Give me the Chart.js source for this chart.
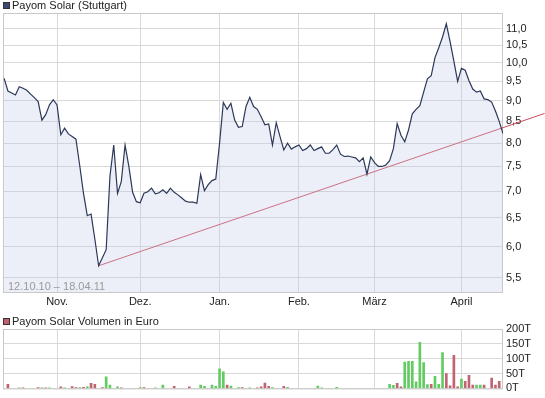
<!DOCTYPE html>
<html>
<head>
<meta charset="utf-8">
<script src="https://cdn.jsdelivr.net/npm/chart.js@4/dist/chart.umd.min.js"></script>
<style>
body { margin: 0; background: #fff; }
#pricebox { position: absolute; left: 0; top: 0; width: 545px; height: 310px; }
#volbox { position: absolute; left: 0; top: 305px; width: 545px; height: 93px; }
</style>
</head>
<body>
<div id="pricebox"><canvas id="priceChart"></canvas></div>
<div id="volbox"><canvas id="volChart"></canvas></div>
<script>
// trading days 12.10.10 .. 18.04.11, one closing price per day
var prices = [
  9.58, 9.25, 9.20, 9.15, 9.36, 9.32, 9.27, 9.17, 9.08, 8.98,
  8.53, 8.66, 8.90, 9.03, 8.90, 8.19, 8.34, 8.21, 8.15, 8.09,
  7.52, 6.96, 6.54, 6.57, 6.13, 5.69, 5.82, 5.95, 7.30, 7.96,
  6.96, 7.19, 7.96, 7.50, 6.98, 6.80, 6.78, 6.96, 6.99, 7.06,
  6.95, 6.97, 7.03, 6.96, 7.06, 6.98, 6.93, 6.87, 6.81, 6.79,
  6.79, 6.77, 7.33, 7.01, 7.13, 7.21, 7.24, 8.00, 8.96, 8.79,
  8.94, 8.53, 8.36, 8.38, 8.86, 9.09, 8.86, 8.79, 8.61, 8.42,
  8.44, 7.96, 8.47, 8.15, 7.85, 8.00, 7.87, 7.92, 7.96, 7.84,
  7.88, 7.96, 7.84, 7.88, 7.92, 7.78, 7.78, 7.86, 7.96, 7.76,
  7.71, 7.72, 7.70, 7.68, 7.60, 7.68, 7.34, 7.70, 7.58, 7.50,
  7.50, 7.53, 7.62, 7.88, 8.45, 8.18, 8.03, 8.30, 8.68, 8.79,
  8.88, 9.22, 9.57, 9.65, 10.15, 10.43, 10.75, 11.15, 10.61, 10.05,
  9.50, 9.85, 9.80, 9.52, 9.30, 9.22, 9.25, 9.05, 9.03, 8.97,
  8.75, 8.50, 8.22
];

// trend line (support) through the November low
var trendDays = [25, 143];
var trendVals = [5.69, 8.69];

var monthDays = [14, 36, 57, 78, 98, 121];
var monthNames = ['Nov.', 'Dez.', 'Jan.', 'Feb.', 'März', 'April'];
var priceTicks = [5.5, 6.0, 6.5, 7.0, 7.5, 8.0, 8.5, 9.0, 9.5, 10.0, 10.5, 11.0];

// volume in thousand euro, '+' = up day (green), '-' = down day (red)
var volDays = [1, 4, 5, 9, 10, 11, 12, 15, 16, 18, 19, 20, 21, 22, 23, 24, 26, 27, 28, 30,
  31, 36, 37, 40, 42, 45, 49, 52, 53, 55, 56, 57, 58, 59, 60, 62, 63, 65, 67, 68,
  69, 70, 71, 74, 75, 83, 84, 88, 102, 103, 104, 105, 106, 107, 108, 109, 110, 111, 112, 113,
  114, 115, 116, 117, 118, 119, 120, 121, 122, 123, 124, 125, 126, 127, 129, 130, 131];
var volAmounts = [14, 2, 2, 3, 2, 2, 2, 5, 2, 6, 3, 3, 4, 5, 17, 14, 3, 39, 11, 5,
  2, 3, 3, 2, 11, 7, 5, 11, 7, 11, 7, 66, 56, 11, 8, 3, 3, 2, 2, 5,
  18, 7, 3, 7, 4, 8, 2, 4, 14, 10, 17, 5, 89, 91, 91, 22, 155, 87, 13, 14,
  41, 14, 121, 50, 9, 111, 5, 31, 24, 44, 11, 11, 11, 11, 35, 11, 24];
var volSide = ['-', '+', '-', '-', '+', '-', '+', '-', '+', '-', '-', '+', '-', '+', '-', '-', '-', '+', '+', '+',
  '-', '+', '-', '+', '+', '-', '-', '+', '+', '+', '+', '+', '+', '-', '+', '+', '-', '+', '-', '-',
  '-', '-', '+', '-', '+', '+', '+', '+', '+', '+', '-', '-', '+', '+', '+', '+', '+', '+', '+', '-',
  '+', '+', '+', '-', '-', '-', '-', '+', '-', '-', '-', '+', '+', '-', '-', '-', '-'];
var volTicks = [0, 50, 100, 150, 200];

var FONT = '"Liberation Sans", Arial, sans-serif';
Chart.defaults.font.family = FONT;
Chart.defaults.font.size = 11;
Chart.defaults.color = '#222';
var GRID = '#d9d9d9';

// small coloured square + dataset label, top left
var boxLegend = {
  id: 'boxLegend',
  afterDraw: function (chart, args, o) {
    var ctx = chart.ctx;
    ctx.save();
    ctx.fillStyle = o.color;
    ctx.fillRect(o.x, o.y, 7, 7);
    ctx.strokeStyle = '#333';
    ctx.lineWidth = 1;
    ctx.strokeRect(o.x + 0.5, o.y + 0.5, 6, 6);
    ctx.font = '11px ' + FONT;
    ctx.fillStyle = '#222';
    ctx.textBaseline = 'middle';
    ctx.fillText(chart.data.datasets[0].label, o.x + 9, o.y + 4);
    ctx.restore();
  }
};

var frame = {
  id: 'frame',
  beforeDatasetsDraw: function (chart) {
    var a = chart.chartArea, ctx = chart.ctx;
    ctx.save();
    ctx.strokeStyle = '#c8c8c8';
    ctx.lineWidth = 1;
    ctx.strokeRect(a.left + 0.5, a.top + 0.5, a.right - a.left - 1, a.bottom - a.top);
    ctx.restore();
  }
};

var rangeText = {
  id: 'rangeText',
  afterDatasetsDraw: function (chart, args, o) {
    var ctx = chart.ctx;
    ctx.save();
    ctx.font = '11px ' + FONT;
    ctx.fillStyle = '#9a9a9a';
    ctx.textBaseline = 'middle';
    ctx.fillText(o.text, chart.chartArea.left + 5, chart.chartArea.bottom - 5);
    ctx.restore();
  }
};

function monthAxis(showLabels, h) {
  return {
    type: 'linear',
    min: -0.3,
    max: 132,
    offset: false,
    afterBuildTicks: function (s) { s.ticks = monthDays.map(function (d) { return { value: d }; }); },
    afterFit: function (s) { s.height = h; },
    grid: { color: GRID, drawTicks: false, offset: false },
    border: { display: false },
    ticks: {
      display: showLabels,
      autoSkip: false,
      maxRotation: 0,
      padding: 3,
      callback: function (v) { return monthNames[monthDays.indexOf(v)]; }
    }
  };
}

new Chart(document.getElementById('priceChart'), {
  type: 'line',
  data: {
    datasets: [{
      label: 'Payom Solar (Stuttgart)',
      data: prices.map(function (v, i) { return { x: i, y: v }; }),
      borderColor: '#2c3858',
      borderWidth: 1.2,
      backgroundColor: 'rgba(192,202,232,0.3)',
      fill: 'start',
      pointRadius: 0,
      tension: 0
    }, {
      label: 'Trend',
      data: trendDays.map(function (d, i) { return { x: d, y: trendVals[i] }; }),
      borderColor: '#d04a58',
      borderWidth: 1,
      pointRadius: 0,
      fill: false,
      clip: false
    }]
  },
  options: {
    responsive: true,
    maintainAspectRatio: false,
    animation: false,
    layout: { padding: { left: 3, top: 13, right: 0, bottom: 0 } },
    plugins: {
      legend: { display: false },
      tooltip: { enabled: false },
      boxLegend: { x: 3, y: 2, color: '#3b4a72' },
      rangeText: { text: '12.10.10 \u2013 18.04.11' }
    },
    scales: {
      x: monthAxis(true, 18),
      y: {
        type: 'logarithmic',
        position: 'right',
        min: 5.29,
        max: 11.49,
        afterBuildTicks: function (s) { s.ticks = priceTicks.map(function (v) { return { value: v }; }); },
        afterFit: function (s) { s.width = 42; },
        grid: { color: GRID, drawTicks: false },
        border: { display: false },
        ticks: {
          autoSkip: false,
          padding: 3,
          callback: function (v) { return Number(v).toFixed(1).replace('.', ','); }
        }
      }
    }
  },
  plugins: [boxLegend, frame, rangeText]
});

new Chart(document.getElementById('volChart'), {
  type: 'bar',
  data: {
    datasets: [{
      label: 'Payom Solar Volumen in Euro',
      data: volDays.map(function (d, i) { return { x: d, y: volAmounts[i] }; }),
      backgroundColor: volSide.map(function (s) { return s === '+' ? '#62cc62' : '#bf6472'; }),
      barThickness: 2,
      grouped: false
    }]
  },
  options: {
    responsive: true,
    maintainAspectRatio: false,
    animation: false,
    layout: { padding: { left: 3, top: 24, right: 0, bottom: 0 } },
    plugins: {
      legend: { display: false },
      tooltip: { enabled: false },
      boxLegend: { x: 3, y: 13, color: '#c4606c' }
    },
    scales: {
      x: monthAxis(false, 9),
      y: {
        position: 'right',
        min: 0,
        max: 200,
        afterBuildTicks: function (s) { s.ticks = volTicks.map(function (v) { return { value: v }; }); },
        afterFit: function (s) { s.width = 42; },
        grid: { color: GRID, drawTicks: false },
        border: { display: false },
        ticks: {
          autoSkip: false,
          padding: 3,
          callback: function (v) { return v + 'T'; }
        }
      }
    }
  },
  plugins: [boxLegend, frame]
});
</script>
</body>
</html>
